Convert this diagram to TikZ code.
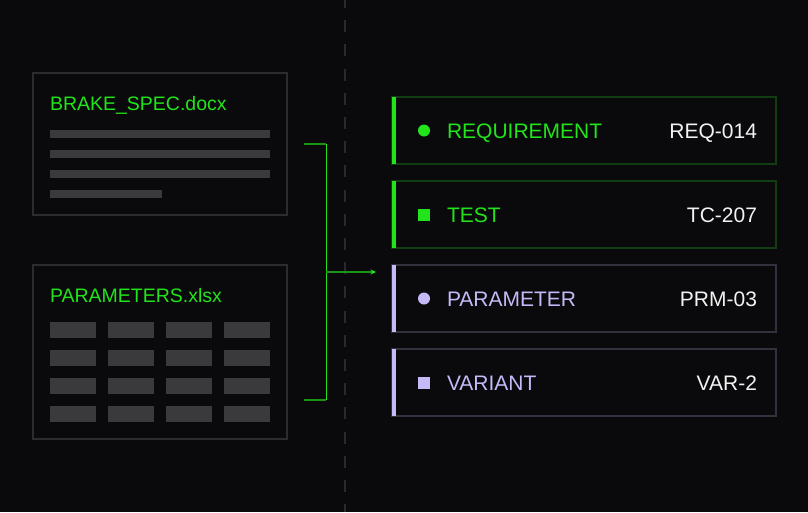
\documentclass[tikz,border=0pt]{standalone}
\usepackage{fontspec}
\setmainfont{Liberation Sans}
\usetikzlibrary{arrows.meta,positioning}

\definecolor{bg}{HTML}{0A0A0C}
\definecolor{docline}{HTML}{2C2C2F}
\definecolor{barc}{HTML}{3A3A3C}
\definecolor{neon}{HTML}{22E41A}
\definecolor{neondark}{HTML}{1A9414}
\definecolor{neonedge}{HTML}{123C12}
\definecolor{lav}{HTML}{C6B9F8}
\definecolor{lavedge}{HTML}{34303E}
\definecolor{idtext}{HTML}{F2F2F2}
\definecolor{divc}{HTML}{2A2A2E}

\begin{document}
\begin{tikzpicture}[x=1pt,y=-1pt,>={Stealth[length=5.5pt,width=5pt,color=neon]},
                    inner sep=0pt, outer sep=0pt]
  \tikzstyle{doc}=[draw=docline, line width=1.5pt, minimum width=254pt, anchor=north west]
  \tikzstyle{title}=[anchor=base west, text=neon, font=\fontsize{19.5}{20}\selectfont]
  \tikzstyle{card}=[line width=1.5pt, minimum width=384pt, minimum height=67pt, anchor=north west]
  \tikzstyle{lab}=[anchor=base west, font=\fontsize{21}{22}\selectfont]
  \tikzstyle{val}=[anchor=base east, text=idtext, font=\fontsize{21}{22}\selectfont]
  \tikzstyle{dot}=[circle, minimum size=12pt]
  \tikzstyle{sq}=[rectangle, minimum size=12pt]

  \fill[bg] (0,0) rectangle (808,512);
  \useasboundingbox (0,0) rectangle (808,512);

  \draw[divc, line width=2pt, dash pattern=on 12pt off 12.2pt, dash phase=4pt] (345,0) -- (345,512);

  \node[doc, minimum height=142pt] (spec) at (33,73) {};
  \node[title] (spectitle) at (50,110) {BRAKE\_SPEC.docx};
  \foreach \y in {130,150,170}
    \fill[barc] (50,\y) rectangle (270,\y+8);
  \fill[barc] (50,190) rectangle (162,198);

  \node[doc, minimum height=174pt] (params) at (33,265) {};
  \node[title] (paramstitle) at (50,302.5) {PARAMETERS.xlsx};
  \foreach \i in {0,...,3}
    \foreach \j in {0,...,3}
      \fill[barc] ({50+58*\i},{322+28*\j}) rectangle +(46,16);

  \coordinate (a) at (304,144);
  \coordinate (b) at (304,400);
  \coordinate (ta) at (326,144);
  \coordinate (tb) at (326,400);
  \coordinate (j) at (326,272);
  \coordinate (t) at (376,272);
  \draw[neondark, line width=1.2pt] (a) -- (ta) (b) -- (tb);
  \draw[neon, line width=1pt] (ta) -- (tb);
  \draw[->, neondark, line width=1.2pt] (j) -- (t);

  \node[card, draw=neonedge] (req) at (392,97) {};
  \node[card, draw=neonedge] (test) at (392,181) {};
  \node[card, draw=lavedge] (prm) at (392,265) {};
  \node[card, draw=lavedge] (var) at (392,349) {};

  \fill[neon] (req.south west) rectangle ([xshift=3.5pt]req.north west);
  \fill[neon] (test.south west) rectangle ([xshift=3.5pt]test.north west);
  \fill[lav] (prm.south west) rectangle ([xshift=3.5pt]prm.north west);
  \fill[lav] (var.south west) rectangle ([xshift=3.5pt]var.north west);

  \node[dot, fill=neon] (reqdot) at ([xshift=32pt]req.west) {};
  \node[sq, fill=neon] (testdot) at ([xshift=32pt]test.west) {};
  \node[dot, fill=lav] (prmdot) at ([xshift=32pt]prm.west) {};
  \node[sq, fill=lav] (vardot) at ([xshift=32pt]var.west) {};

  \node[lab, text=neon] (reqlab) at ([xshift=55pt,yshift=-8pt]req.west) {REQUIREMENT};
  \node[lab, text=neon] (testlab) at ([xshift=55pt,yshift=-8pt]test.west) {TEST};
  \node[lab, text=lav] (prmlab) at ([xshift=55pt,yshift=-8pt]prm.west) {PARAMETER};
  \node[lab, text=lav] (varlab) at ([xshift=55pt,yshift=-8pt]var.west) {VARIANT};

  \node[val] (reqid) at ([xshift=-19pt,yshift=-8pt]req.east) {REQ-014};
  \node[val] (testid) at ([xshift=-19pt,yshift=-8pt]test.east) {TC-207};
  \node[val] (prmid) at ([xshift=-19pt,yshift=-8pt]prm.east) {PRM-03};
  \node[val] (varid) at ([xshift=-19pt,yshift=-8pt]var.east) {VAR-2};
\end{tikzpicture}
\end{document}
